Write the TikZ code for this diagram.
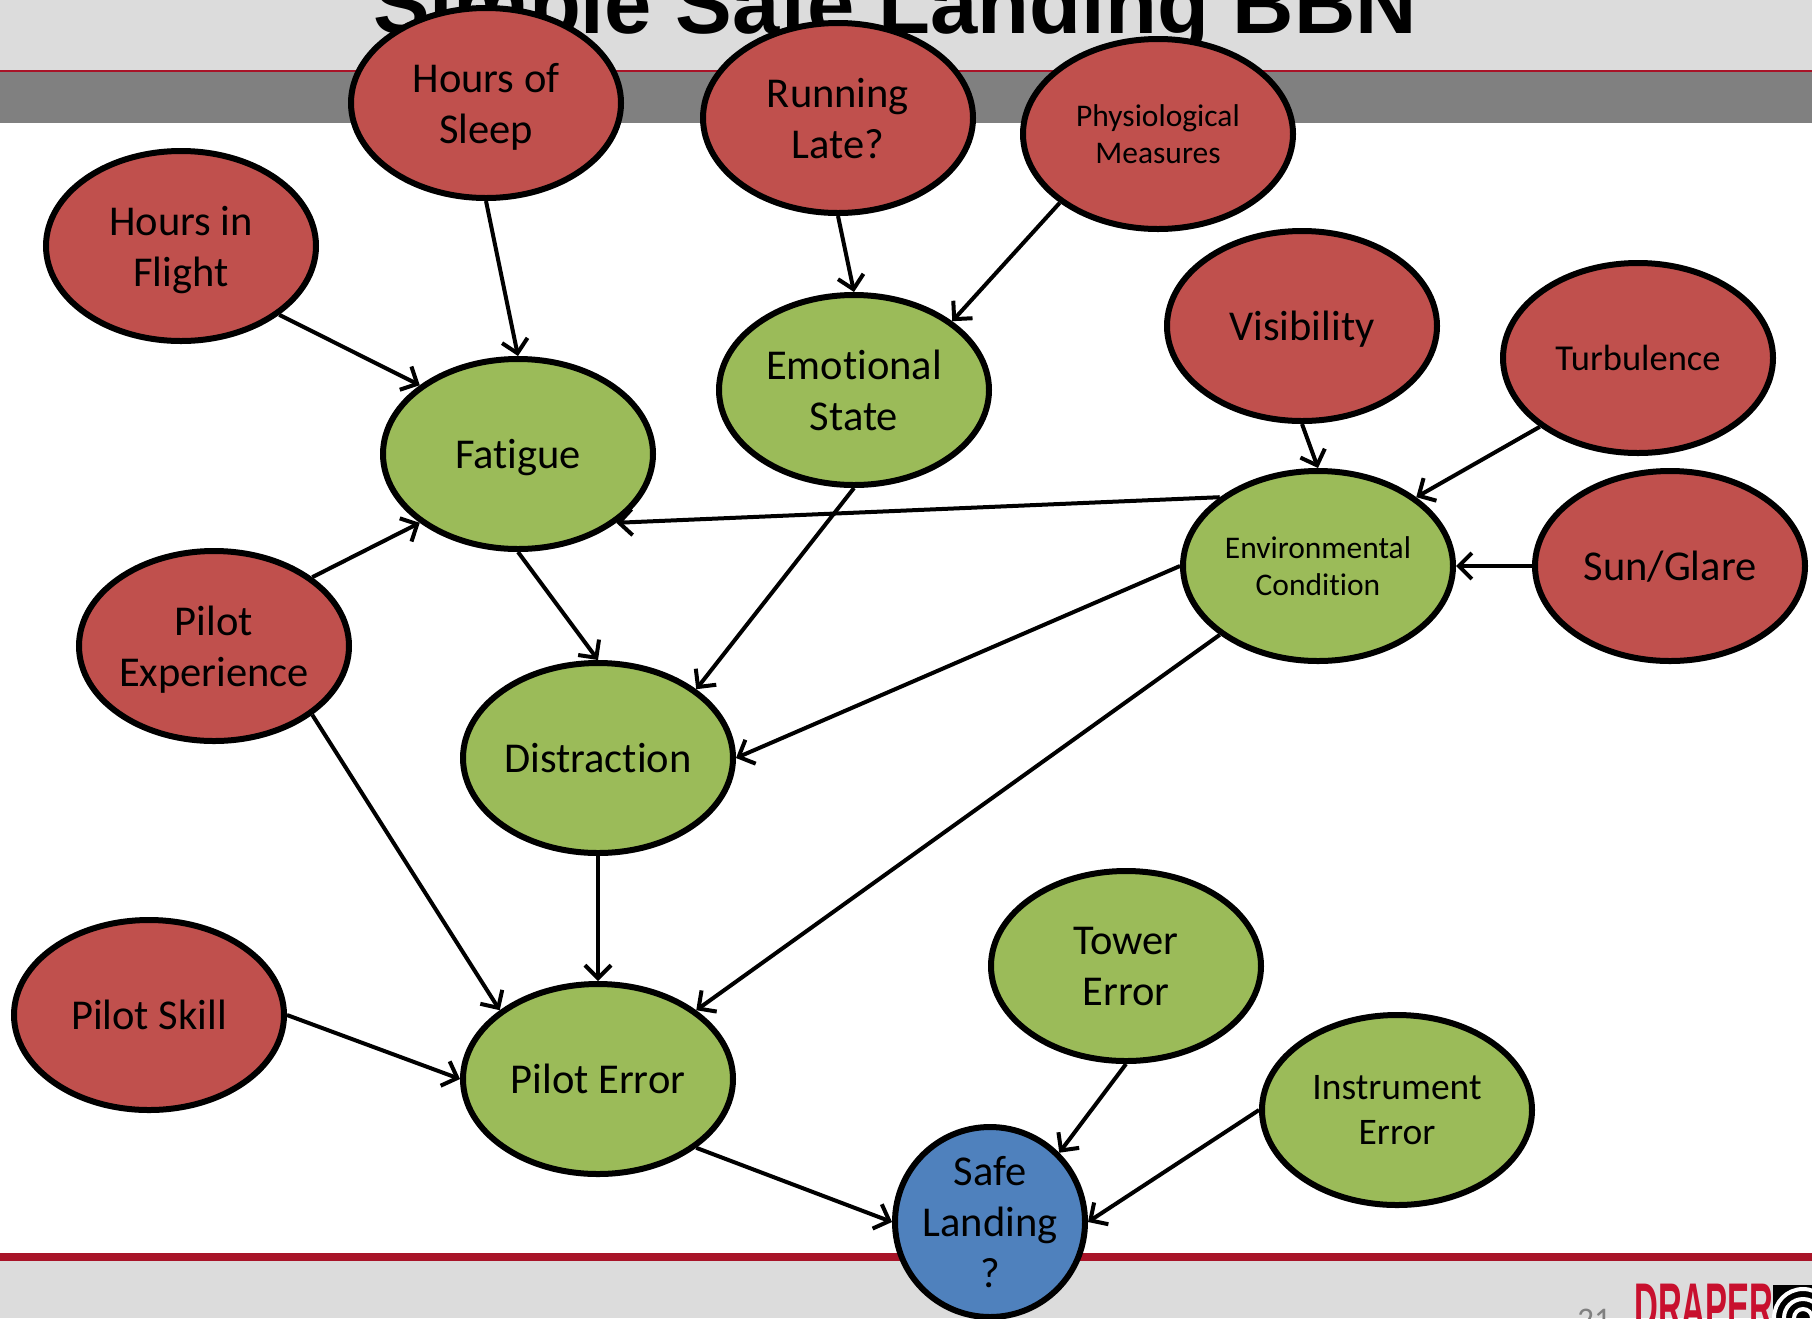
\documentclass[tikz,border=0pt]{standalone}
\usepackage{fontspec}
\setmainfont{Carlito}[Ligatures=CommonOff]
\newfontfamily\titlefont{Liberation Sans}
\usetikzlibrary{shapes.geometric,arrows.meta}
\definecolor{causered}{HTML}{C0504D}
\definecolor{statusgreen}{HTML}{9BBB59}
\definecolor{goalblue}{HTML}{4F81BD}
\definecolor{bandgray}{HTML}{DCDCDC}
\definecolor{bargray}{HTML}{808080}
\definecolor{linered}{HTML}{A81428}
\definecolor{logored}{HTML}{C8102E}
\tikzset{
  bbn/.style={ellipse,draw=black,line width=6pt,minimum width=270pt,minimum height=190pt,
    inner sep=0pt,align=center,text depth=0pt,font=\fontsize{42.5}{51}\selectfont},
  cause/.style={bbn,fill=causered},
  state/.style={bbn,fill=statusgreen},
  link/.style={-{Straight Barb[length=13pt,width=26pt,line width=4pt]},line width=4pt}
}
\begin{document}
\begin{tikzpicture}[x=1pt,y=-1pt]
\clip (0,0) rectangle (1812,1318);

    % slide background
    \fill[white] (0,0) rectangle (1812,1318);
    \fill[bandgray] (0,0) rectangle (1812,70);
    \fill[bargray] (0,72) rectangle (1812,123);
    \fill[linered] (0,69.5) rectangle (1812,72);
    \fill[bandgray] (0,1261) rectangle (1812,1318);
    \fill[linered] (0,1253) rectangle (1812,1261);
    \node[font=\titlefont\bfseries\fontsize{85}{85}\selectfont,anchor=base,inner sep=0pt] (title) at (895,33) {Simple Safe Landing BBN};
    \node[font=\fontsize{33}{33}\selectfont,text=bargray,anchor=base,inner sep=0pt] (pagenum) at (1594,1330) {21};
    \node[font=\titlefont\bfseries\fontsize{66}{66}\selectfont,text=logored,anchor=north west,inner sep=0pt] (logo) at (1634,1284) {\scalebox{0.5}[1]{DRAPER}};
    \fill[black] (1773,1285) rectangle (1812,1318);
    \foreach \r in {9,19,29} \draw[white,line width=4pt] (1803,1318) circle (\r);

    % causes
    \node[cause] (sleep) at (486,103) {Hours of\\Sleep};
    \node[cause] (late) at (838,118) {Running\\Late?};
    \node[cause,font=\fontsize{31.5}{37}\selectfont] (physio) at (1158,134) {Physiological\\Measures};
    \node[cause] (flight) at (181,246) {Hours in\\Flight};
    \node[cause] (visibility) at (1302,326) {Visibility};
    \node[cause,font=\fontsize{36.5}{44}\selectfont] (turbulence) at (1638,358) {Turbulence};
    \node[cause] (glare) at (1670,566) {Sun/Glare};
    \node[cause] (experience) at (214,646) {Pilot\\Experience};
    \node[cause] (skill) at (149,1015) {Pilot Skill};

    % states
    \node[state] (fatigue) at (518,454) {Fatigue};
    \node[state] (emotion) at (854,390) {Emotional\\State};
    \node[state,font=\fontsize{31.5}{37}\selectfont] (environment) at (1318,566) {Environmental\\Condition};
    \node[state] (distraction) at (598,758) {Distraction};
    \node[state] (error) at (598,1079) {Pilot Error};
    \node[state] (tower) at (1126,966) {Tower\\Error};
    \node[state,font=\fontsize{37.5}{45}\selectfont] (instrument) at (1397,1110) {Instrument\\Error};
    \node[circle,draw=black,line width=6pt,fill=goalblue,minimum size=190pt,inner sep=0pt,align=center,text depth=0pt,font=\fontsize{42.5}{51}\selectfont] (landing) at (990,1222) {Safe\\Landing\\?};

    % influences
    \foreach \a/\b in {sleep.south/fatigue.north, flight.325/fatigue.145, late.south/emotion.north,
      physio.215/emotion.35, visibility.south/environment.north, turbulence.215/environment.35,
      glare.west/environment.east, environment.145/fatigue.325, environment.west/distraction.east,
      environment.215/error.35, fatigue.south/distraction.north, emotion.south/distraction.35,
      experience.35/fatigue.215, experience.325/error.145, distraction.south/error.north,
      skill.east/error.west, error.325/landing.west, tower.south/landing.45, instrument.west/landing.east}
      \draw[link] (\a) -- (\b);
\end{tikzpicture}
\end{document}
